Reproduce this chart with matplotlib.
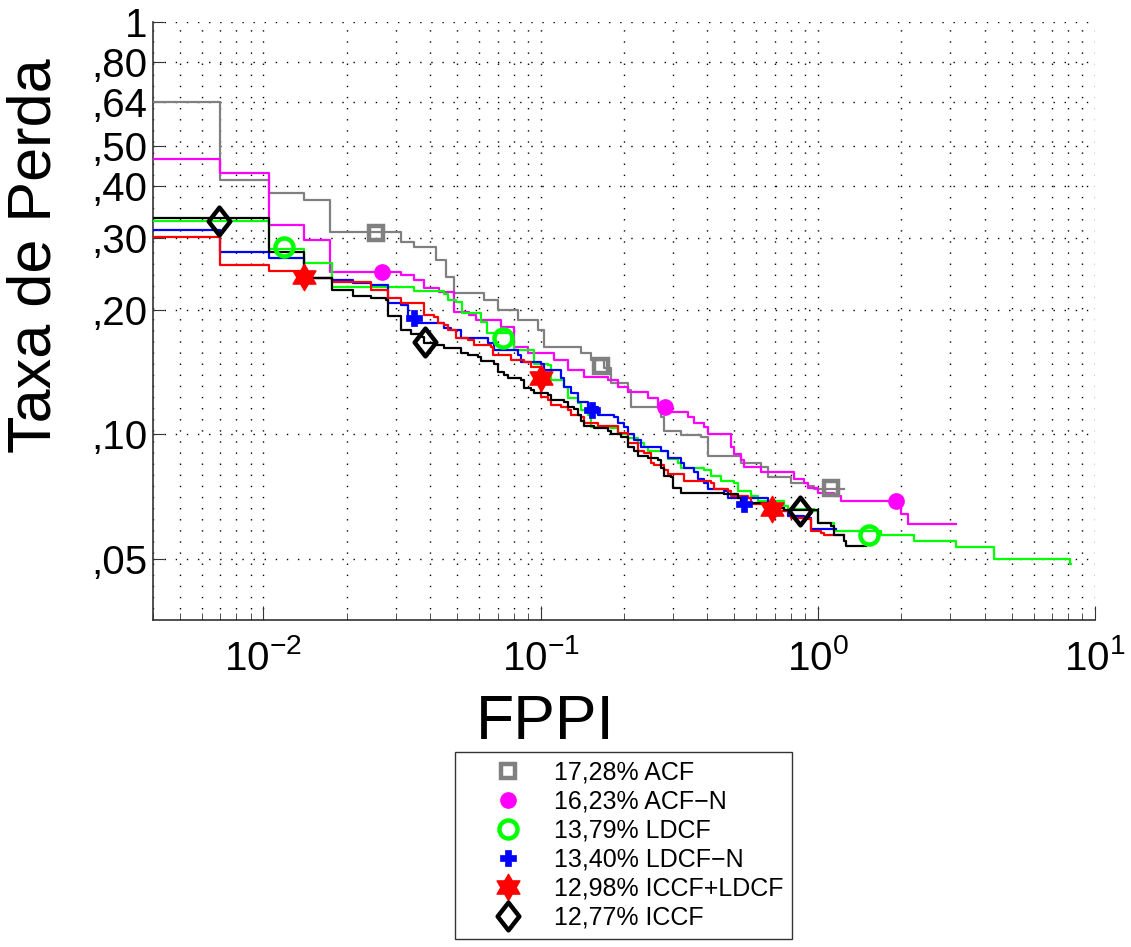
import numpy as np
import matplotlib
matplotlib.use('Agg')
import matplotlib.pyplot as plt
from matplotlib.path import Path
from matplotlib.ticker import FixedLocator, NullLocator, LogLocator, FixedFormatter

plt.rcParams['font.family'] = ['Liberation Sans', 'DejaVu Sans']
plt.rcParams['mathtext.fontset'] = 'custom'
plt.rcParams['mathtext.rm'] = 'Liberation Sans'
plt.rcParams['mathtext.it'] = 'Liberation Sans:italic'
plt.rcParams['mathtext.bf'] = 'Liberation Sans:bold'

# miss rate vs FPPI, step curves (value holds from fppi[i] to fppi[i+1])
acf_fppi = [0.003, 0.0070, 0.01052, 0.01406, 0.01745, 0.0315, 0.0350, 0.0421, 0.0457, 0.0489,
            0.0627, 0.0703, 0.0830, 0.0980, 0.1030, 0.140, 0.152, 0.170, 0.180, 0.207, 0.212,
            0.272, 0.279, 0.321, 0.379, 0.402, 0.528, 0.625, 0.662, 0.800, 0.922, 0.970, 1.245]
acf_miss = [0.640, 0.4135, 0.3845, 0.370, 0.309, 0.2923, 0.2844, 0.2644, 0.2404, 0.2198,
            0.2115, 0.200, 0.189, 0.1788, 0.1626, 0.158, 0.1512, 0.1446, 0.1330, 0.1279, 0.1163,
            0.1100, 0.1022, 0.0995, 0.0984, 0.0889, 0.0851, 0.0832, 0.0787, 0.0761, 0.0748, 0.0736]

acfn_fppi = [0.003, 0.0070, 0.01052, 0.01406, 0.01745, 0.0315, 0.0350, 0.0381, 0.0430, 0.0489,
             0.0553, 0.0586, 0.0722, 0.0803, 0.0902, 0.1119, 0.1258, 0.1436, 0.1753, 0.1905,
             0.207, 0.2444, 0.2655, 0.296, 0.340, 0.358, 0.389, 0.402, 0.486, 0.499, 0.528,
             0.542, 0.625, 0.822, 0.893, 0.922, 1.002, 1.145, 1.214, 1.996, 2.115, 3.15]
acfn_miss = [0.465, 0.430, 0.3216, 0.2956, 0.2473, 0.2432, 0.2364, 0.2262, 0.2213, 0.1978,
             0.1945, 0.1891, 0.1819, 0.1626, 0.158, 0.1512, 0.1430, 0.1375, 0.1352, 0.130,
             0.1265, 0.1223, 0.1163, 0.1131, 0.1100, 0.1064, 0.1040, 0.1005, 0.0930, 0.0899, 0.0865,
             0.0832, 0.0809, 0.0782, 0.0764, 0.0743, 0.0723, 0.0711, 0.0691, 0.0643, 0.0608]

ldcf_fppi = [0.003, 0.01052, 0.01406, 0.01762, 0.0350, 0.0450, 0.0465, 0.0497, 0.0522, 0.0612,
             0.0640, 0.0784, 0.0803, 0.0949, 0.1066, 0.1093, 0.1217, 0.1258, 0.1368, 0.140,
             0.1486, 0.152, 0.180, 0.1905, 0.207, 0.225, 0.2365, 0.2444, 0.2885, 0.3135, 0.321,
             0.389, 0.411, 0.448, 0.499, 0.515, 0.5747, 0.609, 0.755, 0.781, 0.970, 1.002, 1.145,
             1.690, 2.22, 3.15, 4.31, 8.10, 8.18]
ldcf_miss = [0.329, 0.281, 0.260, 0.2275, 0.2225, 0.2188, 0.2115, 0.2091, 0.1966, 0.187,
             0.1758, 0.1663, 0.160, 0.1486, 0.147, 0.1352, 0.130, 0.1223, 0.1189, 0.1144,
             0.1112, 0.1040, 0.1035, 0.1005, 0.0978, 0.0951, 0.0935, 0.0914, 0.0874, 0.0851, 0.0827,
             0.0818, 0.0795, 0.0773, 0.0761, 0.0731, 0.0711, 0.0691, 0.0672, 0.0661, 0.0654, 0.0611, 0.0585,
             0.0572, 0.0553, 0.0535, 0.0500, 0.0486]

ldcfn_fppi = [0.003, 0.0070, 0.01052, 0.01396, 0.01762, 0.02113, 0.02455, 0.02827, 0.0315, 0.03336,
              0.03623, 0.0450, 0.04764, 0.05176, 0.0648, 0.0681, 0.0830, 0.0851, 0.1005, 0.1030,
              0.1188, 0.1217, 0.1290, 0.1368, 0.1486, 0.1614, 0.1845, 0.1905, 0.2004, 0.207,
              0.2177, 0.2307, 0.272, 0.2885, 0.321, 0.3296, 0.358, 0.370, 0.389, 0.402, 0.459,
              0.474, 0.662, 0.756, 0.781, 0.893, 0.946, 1.163]
ldcfn_miss = [0.3128, 0.2765, 0.2675, 0.2392, 0.2364, 0.2325, 0.2301, 0.208, 0.2056, 0.1923,
              0.1859, 0.1808, 0.1788, 0.171, 0.1663, 0.160, 0.1555, 0.1496, 0.1479, 0.1430,
              0.1367, 0.130, 0.1257, 0.1196, 0.1163, 0.1112, 0.1100, 0.1064, 0.1045, 0.1005,
              0.0972, 0.0930, 0.0914, 0.0879, 0.0855, 0.0827, 0.0809, 0.0782, 0.0764, 0.0739, 0.0731,
              0.0700, 0.0665, 0.0654, 0.0636, 0.0629, 0.0591]

iccfl_fppi = [0.003, 0.0070, 0.01052, 0.01396, 0.01762, 0.02455, 0.02827, 0.0315, 0.0381, 0.0414,
              0.0428, 0.0450, 0.0465, 0.0497, 0.0548, 0.0577, 0.0664, 0.0675, 0.0784, 0.0873,
              0.0925, 0.1005, 0.1066, 0.1093, 0.1188, 0.1258, 0.1290, 0.140, 0.1436, 0.1614,
              0.1905, 0.207, 0.225, 0.2365, 0.2506, 0.257, 0.279, 0.2885, 0.3296, 0.411, 0.4216,
              0.474, 0.486, 0.560, 0.5747, 0.640, 0.702, 0.781, 0.800, 0.922, 0.946, 1.028, 1.054, 1.245]
iccfl_miss = [0.3008, 0.257, 0.2487, 0.2392, 0.2339, 0.2237, 0.2138, 0.208, 0.1945, 0.1923,
              0.1859, 0.1840, 0.1788, 0.171, 0.169, 0.1644, 0.1626, 0.1555, 0.1512, 0.1496,
              0.1454, 0.1230, 0.121, 0.1176, 0.1163, 0.1144, 0.1112, 0.1100, 0.1069, 0.1051,
              0.1011, 0.0951, 0.0914, 0.0904, 0.0855, 0.0841, 0.0818, 0.0804, 0.0773, 0.0761, 0.0739,
              0.0731, 0.0711, 0.0703, 0.0680, 0.0672, 0.0654, 0.0647, 0.0629, 0.0625, 0.0585, 0.0578, 0.0569]

iccf_fppi = [0.003, 0.01052, 0.01396, 0.01762, 0.02113, 0.02455, 0.0278, 0.02827, 0.0315, 0.0342,
             0.0372, 0.0381, 0.0414, 0.0450, 0.0518, 0.0548, 0.0596, 0.0611, 0.0681, 0.0703,
             0.0739, 0.0764, 0.0851, 0.0873, 0.0925, 0.0949, 0.1066, 0.1093, 0.1217, 0.1258,
             0.1322, 0.1368, 0.140, 0.1436, 0.1561, 0.1753, 0.180, 0.1953, 0.207, 0.2177, 0.225,
             0.2444, 0.2655, 0.272, 0.279, 0.296, 0.3008, 0.321, 0.459, 0.515, 0.528, 0.662,
             0.7367, 0.756, 1.002, 1.117, 1.145, 1.244, 1.265, 1.493]
iccf_miss = [0.3343, 0.2765, 0.2392, 0.2237, 0.2163, 0.2138, 0.2115, 0.1934, 0.1788, 0.1757,
             0.1719, 0.1663, 0.1644, 0.1617, 0.158, 0.1555, 0.1538, 0.1504, 0.1486, 0.1414,
             0.139, 0.1367, 0.1352, 0.1293, 0.1279, 0.1257, 0.1244, 0.121, 0.1196, 0.1163,
             0.1156, 0.1112, 0.1081, 0.1051, 0.1035, 0.1022, 0.1000, 0.0984, 0.0935, 0.0914, 0.0889,
             0.0879, 0.0865, 0.0827, 0.0795, 0.0787, 0.0743, 0.0723, 0.0719, 0.0700, 0.0684, 0.0680,
             0.0665, 0.0657, 0.0611, 0.0601, 0.0572, 0.0553, 0.0538]

# marker positions along each curve
acf_mk_x = [0.0254, 0.1655, 1.117]
acf_mk_y = [0.3076, 0.1462, 0.0740]
acfn_mk_x = [0.0267, 0.2814, 1.914]
acfn_mk_y = [0.2473, 0.1163, 0.0688]
ldcf_mk_x = [0.0119, 0.0733, 1.531]
ldcf_mk_y = [0.2844, 0.1710, 0.0572]
ldcfn_mk_x = [0.0350, 0.1535, 0.5425]
ldcfn_mk_y = [0.1912, 0.1144, 0.0680]
iccfl_mk_x = [0.01406, 0.1005, 0.684]
iccfl_mk_y = [0.2404, 0.1367, 0.0658]
iccf_mk_x = [0.00694, 0.0384, 0.863]
iccf_mk_y = [0.330, 0.1672, 0.0654]

labels = ['17,28% ACF', '16,23% ACF\u2212N', '13,79% LDCF', '13,40% LDCF\u2212N',
          '12,98% ICCF+LDCF', '12,77% ICCF']

ytick_vals = [0.05, 0.10, 0.20, 0.30, 0.40, 0.50, 0.64, 0.80, 1.0]
ytick_text = [',05', ',10', ',20', ',30', ',40', ',50', ',64', ',80', '1']
xtick_vals = [1e-2, 1e-1, 1e0, 1e1]
xtick_text = [r'$\mathregular{10^{-2}}$', r'$\mathregular{10^{-1}}$',
              r'$\mathregular{10^{0}}$', r'$\mathregular{10^{1}}$']

# MATLAB-like marker shapes
diamond = Path([(0, 1), (0.78, 0), (0, -1), (-0.78, 0), (0, 1)],
               [Path.MOVETO, Path.LINETO, Path.LINETO, Path.LINETO, Path.CLOSEPOLY])
ang = np.deg2rad(90 + 30 * np.arange(12))
rad = np.where(np.arange(12) % 2 == 0, 1.0, 1 / np.sqrt(3))
hexagram = Path(np.column_stack([rad * np.cos(ang), rad * np.sin(ang)]).tolist() + [[0, 1]],
                [Path.MOVETO] + [Path.LINETO] * 11 + [Path.CLOSEPOLY])

fig = plt.figure(figsize=(11.31, 9.47), dpi=100)
ax = fig.add_axes([0.1353, 0.3453, 0.8329, 0.6315])
ax.set_xscale('log')
ax.set_yscale('log')

curves = [
    (acf_fppi, acf_miss, acf_mk_x, acf_mk_y, '#808080',
     dict(marker='s', ms=10, mfc='none', mew=3.2)),
    (acfn_fppi, acfn_miss, acfn_mk_x, acfn_mk_y, '#ff00ff',
     dict(marker='o', ms=11, mfc='#ff00ff', mew=1)),
    (ldcf_fppi, ldcf_miss, ldcf_mk_x, ldcf_mk_y, '#00ff00',
     dict(marker='o', ms=13, mfc='none', mew=3.2)),
    (ldcfn_fppi, ldcfn_miss, ldcfn_mk_x, ldcfn_mk_y, '#0000ff',
     dict(marker='P', ms=12, mfc='#0000ff', mew=0.5)),
    (iccfl_fppi, iccfl_miss, iccfl_mk_x, iccfl_mk_y, '#ff0000',
     dict(marker=hexagram, ms=19, mfc='#ff0000', mew=1)),
    (iccf_fppi, iccf_miss, iccf_mk_x, iccf_mk_y, '#000000',
     dict(marker=diamond, ms=20, mfc='none', mew=3.2)),
]

handles = []
for (fx, my, mkx, mky, col, mk), lab in zip(curves, labels):
    ax.step(fx, my + [my[-1]], where='post', color=col, lw=1.6, zorder=3)
    h, = ax.plot(mkx, mky, ls='none', color=col, mec=col, zorder=4, label=lab, **mk)
    handles.append(h)

ax.set_xlim(0.004, 10)
ax.set_ylim(0.0355, 1.0)

ax.yaxis.set_major_locator(FixedLocator(ytick_vals))
ax.yaxis.set_major_formatter(FixedFormatter(ytick_text))
ax.yaxis.set_minor_locator(NullLocator())
ax.xaxis.set_major_locator(FixedLocator(xtick_vals))
ax.xaxis.set_major_formatter(FixedFormatter(xtick_text))
ax.xaxis.set_minor_locator(LogLocator(base=10, subs=np.arange(2, 10)))

dots = (0, (1, 7))
ax.grid(which='major', axis='both', ls=dots, color='k', lw=1.0)
ax.grid(which='minor', axis='x', ls=dots, color='k', lw=1.0)
ax.set_axisbelow(True)

for s in ['top', 'right']:
    ax.spines[s].set_visible(False)
for s in ['left', 'bottom']:
    ax.spines[s].set_color('#333333')
    ax.spines[s].set_linewidth(1.2)

ax.tick_params(axis='both', which='both', direction='in', colors='#333333', labelcolor='k')
ax.tick_params(axis='y', which='major', length=8, labelsize=29, pad=4)
ax.tick_params(axis='x', which='major', length=10, labelsize=29, pad=14)
ax.tick_params(axis='x', which='minor', length=5)

ax.set_xlabel('FPPI', fontsize=45)
ax.xaxis.set_label_coords(0.416, -0.171)
ax.xaxis.label.set_va('center')
ax.set_ylabel('Taxa de Perda', fontsize=44)
ax.yaxis.set_label_coords(-0.125, 0.61)
ax.yaxis.label.set_va('center')

leg = fig.legend(handles=handles, loc='upper left', bbox_to_anchor=(455 / 1131, 1 - 752 / 947),
                 fontsize=18, frameon=True, fancybox=False, edgecolor='black',
                 handlelength=3.5, handletextpad=0.1, labelspacing=0.2, borderpad=0.35,
                 borderaxespad=0)
leg.get_frame().set_linewidth(1.0)

fig.savefig('out.png', dpi=100)
